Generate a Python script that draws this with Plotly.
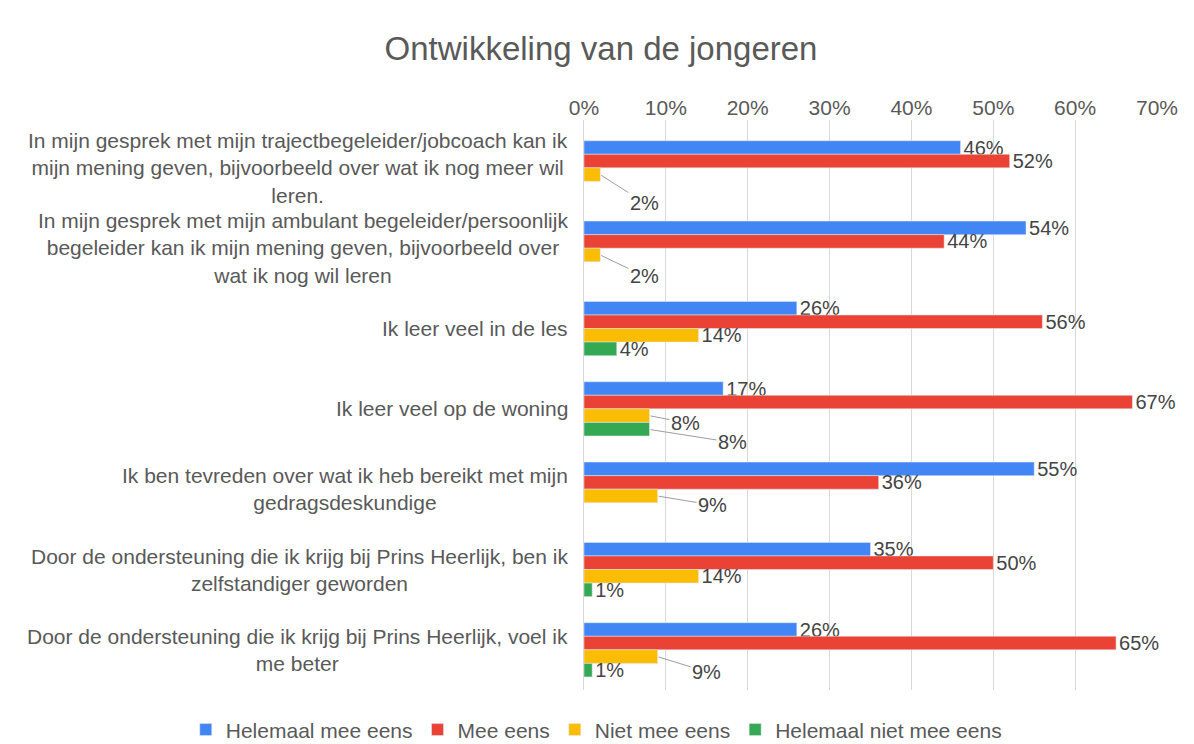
import plotly.graph_objects as go

# categorieën (stellingen)
categories = [
    "In mijn gesprek met mijn trajectbegeleider/jobcoach kan ik<br>mijn mening geven, bijvoorbeeld over wat ik nog meer wil<br>leren.",
    "In mijn gesprek met mijn ambulant begeleider/persoonlijk<br>begeleider kan ik mijn mening geven, bijvoorbeeld over<br>wat ik nog wil leren",
    "Ik leer veel in de les",
    "Ik leer veel op de woning",
    "Ik ben tevreden over wat ik heb bereikt met mijn<br>gedragsdeskundige",
    "Door de ondersteuning die ik krijg bij Prins Heerlijk, ben ik<br>zelfstandiger geworden",
    "Door de ondersteuning die ik krijg bij Prins Heerlijk, voel ik<br>me beter",
]

series_names = ["Helemaal mee eens", "Mee eens", "Niet mee eens", "Helemaal niet mee eens"]
helemaal_mee_eens = [0.46, 0.54, 0.26, 0.17, 0.55, 0.35, 0.26]
mee_eens = [0.52, 0.44, 0.56, 0.67, 0.36, 0.50, 0.65]
niet_mee_eens = [0.02, 0.02, 0.14, 0.08, 0.09, 0.14, 0.09]
helemaal_niet_mee_eens = [None, None, 0.04, 0.08, None, 0.01, 0.01]
values = [helemaal_mee_eens, mee_eens, niet_mee_eens, helemaal_niet_mee_eens]

tick_vals = [0, 0.1, 0.2, 0.3, 0.4, 0.5, 0.6, 0.7]

colors = ["#4285F4", "#EA4335", "#FBBC04", "#34A853"]
font = "Liberation Sans, Arial, sans-serif"
grey = "#595959"
label_grey = "#444444"

# labels met een verbindingslijn: (reeks, categorie) -> verschuiving tekst in px
callouts = {
    (2, 0): (44, 28),
    (2, 1): (44, 21),
    (2, 3): (36, 7),
    (3, 3): (83, 13),
    (2, 4): (55, 9),
    (2, 6): (49, 15),
}

bargap = 0.325
band_px = 570 / len(categories)
bar_w = (1 - bargap) / len(series_names)

fig = go.Figure()
for i, (name, vals) in enumerate(zip(series_names, values)):
    texts = []
    for j, v in enumerate(vals):
        if v is None or (i, j) in callouts:
            texts.append("")
        else:
            texts.append(f"{round(v * 100)}%")
    fig.add_trace(go.Bar(
        y=categories, x=vals, name=name, orientation="h",
        marker=dict(color=colors[i]),
        text=texts, textposition="outside", cliponaxis=False,
        constraintext="none",
        textfont=dict(size=20, color=label_grey, family=font),
    ))

annotations = []
for (i, j), (ax, ay) in callouts.items():
    v = values[i][j]
    offset = -(1 - bargap) / 2 + (i + 0.5) * bar_w
    annotations.append(dict(
        x=v, y=categories[j], xref="x", yref="y",
        yshift=-offset * band_px,
        text=f"{round(v * 100)}%", showarrow=True, arrowhead=0,
        arrowwidth=1, arrowcolor="#9e9e9e", ax=ax, ay=ay, standoff=1,
        font=dict(size=20, color=label_grey, family=font),
    ))

# categorie-labels als annotaties zodat ze gecentreerd uitlijnen
for c in categories:
    annotations.append(dict(
        x=0, y=c, xref="paper", yref="y", xanchor="right", xshift=-14,
        text=c, showarrow=False, align="center",
        font=dict(size=21, color=grey, family=font),
    ))

# body van de pagina heeft 8px marge: daarvoor gecorrigeerd
fig.update_layout(
    width=1186, height=736,
    title=dict(text="Ontwikkeling van de jongeren", x=0.5, xanchor="center",
               y=0.9457, yanchor="middle",
               font=dict(size=33, color=grey, family=font)),
    barmode="group", bargap=bargap, bargroupgap=0,
    margin=dict(l=576, r=37, t=112, b=54, autoexpand=False),
    paper_bgcolor="white", plot_bgcolor="white",
    xaxis=dict(side="top", range=[0, 0.7], tickvals=tick_vals, tickformat=".0%",
               showgrid=True, gridcolor="#d9d9d9", zeroline=False,
               tickfont=dict(size=21, color=grey, family=font), ticks=""),
    yaxis=dict(autorange="reversed", showticklabels=False, showgrid=False,
               showline=True, linecolor="#d9d9d9", ticks=""),
    legend=dict(orientation="h", x=-0.695, xanchor="left",
                y=-0.106, yanchor="bottom",
                font=dict(size=21, color=grey, family=font), traceorder="normal",
                itemwidth=30),
    annotations=annotations,
    showlegend=True,
)

fig.write_html("out.html")
